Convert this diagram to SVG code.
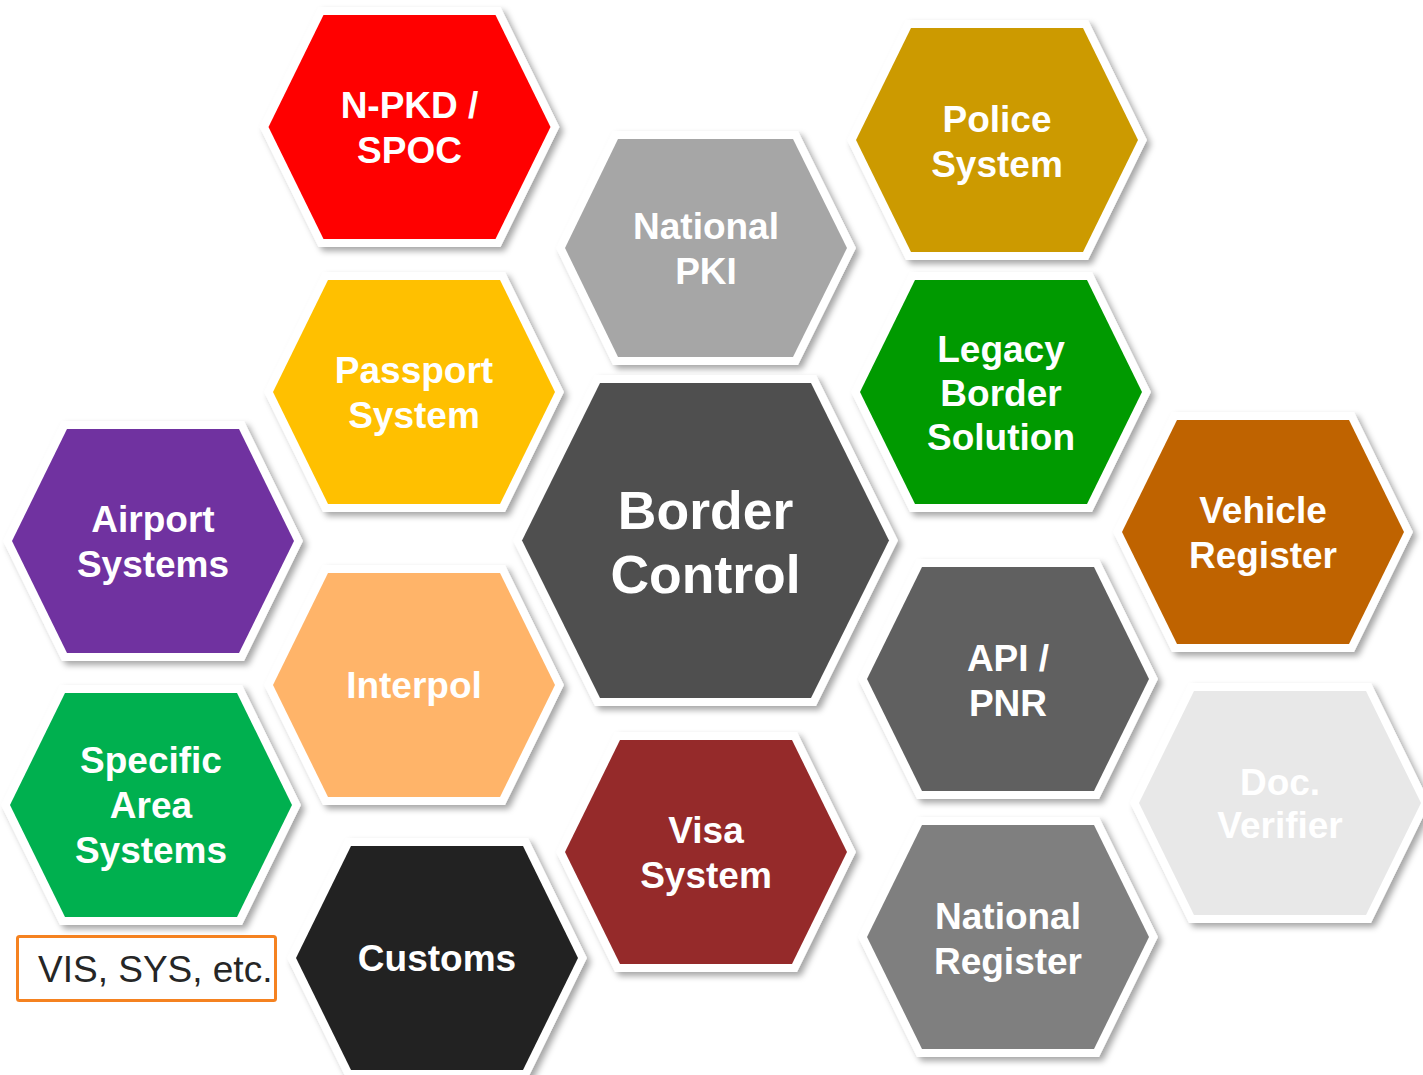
<svg xmlns="http://www.w3.org/2000/svg" width="1423" height="1075" viewBox="0 0 1423 1075">
<style>
.hex{stroke:#fff;stroke-width:16;stroke-linejoin:miter;paint-order:stroke;filter:url(#sh)}
.t{font-family:"Liberation Sans",Arial,sans-serif;font-weight:bold;font-size:37px;fill:#fff;text-anchor:middle}
.big{font-size:53.5px}
.note{font-family:"Liberation Sans",Arial,sans-serif;font-size:37px;fill:#262626}
</style>
<defs>
<filter id="sh" x="-20%" y="-20%" width="140%" height="140%">
<feDropShadow dx="4" dy="4" stdDeviation="3" flood-color="#000" flood-opacity="0.35"/>
</filter>
<path id="h" d="M-141,0 L-86,-112 L86,-112 L141,0 L86,112 L-86,112 Z"/>
</defs>
<rect width="1423" height="1075" fill="#fff"/>
<g id="connectors"/>

<g id="n-pkd" transform="translate(409.5,127)">
<use href="#h" class="hex" fill="#FF0000"/>
<text class="t" y="-9">N-PKD /</text><text class="t" y="36">SPOC</text>
</g>
<g id="police" transform="translate(997,140)">
<use href="#h" class="hex" fill="#CC9A00"/>
<text class="t" y="-8">Police</text><text class="t" y="37">System</text>
</g>
<g id="national-pki" transform="translate(706,248)">
<path d="M-141,0 L-88,-109 L87,-109 L141,0 L87,109 L-88,109 Z" class="hex" fill="#A6A6A6"/>
<text class="t" y="-9">National</text><text class="t" y="36">PKI</text>
</g>
<g id="passport" transform="translate(414,392)">
<use href="#h" class="hex" fill="#FFC000"/>
<text class="t" y="-9">Passport</text><text class="t" y="36">System</text>
</g>
<g id="legacy" transform="translate(1001,392)">
<use href="#h" class="hex" fill="#009A00"/>
<text class="t" y="-30">Legacy</text><text class="t" y="14">Border</text><text class="t" y="58">Solution</text>
</g>
<g id="airport" transform="translate(153,541)">
<use href="#h" class="hex" fill="#7030A0"/>
<text class="t" y="-9">Airport</text><text class="t" y="36">Systems</text>
</g>
<g id="vehicle" transform="translate(1263,532)">
<use href="#h" class="hex" fill="#BF6400"/>
<text class="t" y="-9">Vehicle</text><text class="t" y="36">Register</text>
</g>
<g id="interpol" transform="translate(414,685)">
<use href="#h" class="hex" fill="#FFB469"/>
<text class="t" y="13">Interpol</text>
</g>
<g id="api-pnr" transform="translate(1008,679)">
<use href="#h" class="hex" fill="#606060"/>
<text class="t" y="-8">API /</text><text class="t" y="37">PNR</text>
</g>
<g id="specific" transform="translate(151,805)">
<use href="#h" class="hex" fill="#00B050"/>
<text class="t" y="-32">Specific</text><text class="t" y="13">Area</text><text class="t" y="58">Systems</text>
</g>
<g id="doc-verifier" transform="translate(1280,803)">
<use href="#h" class="hex" fill="#E8E8E8"/>
<text class="t" y="-8">Doc.</text><text class="t" y="35">Verifier</text>
</g>
<g id="visa" transform="translate(706,852)">
<use href="#h" class="hex" fill="#952A2A"/>
<text class="t" y="-9">Visa</text><text class="t" y="36">System</text>
</g>
<g id="national-register" transform="translate(1008,937)">
<use href="#h" class="hex" fill="#7F7F7F"/>
<text class="t" y="-8">National</text><text class="t" y="37">Register</text>
</g>
<g id="customs" transform="translate(437,958)">
<use href="#h" class="hex" fill="#222222"/>
<text class="t" y="13">Customs</text>
</g>
<g id="border-control" transform="translate(705.5,540.5)">
<path d="M-183.5,0 L-105.5,-157.5 L105.5,-157.5 L183.5,0 L105.5,157.5 L-105.5,157.5 Z" class="hex" fill="#505050"/>
<text class="t big" y="-12">Border</text><text class="t big" y="52">Control</text>
</g>
<g id="note">
<rect x="17.5" y="936.5" width="258" height="64" rx="2" fill="#fff" stroke="#F58220" stroke-width="3"/>
<text class="note" x="38" y="982">VIS, SYS, etc.</text>
</g>
</svg>
